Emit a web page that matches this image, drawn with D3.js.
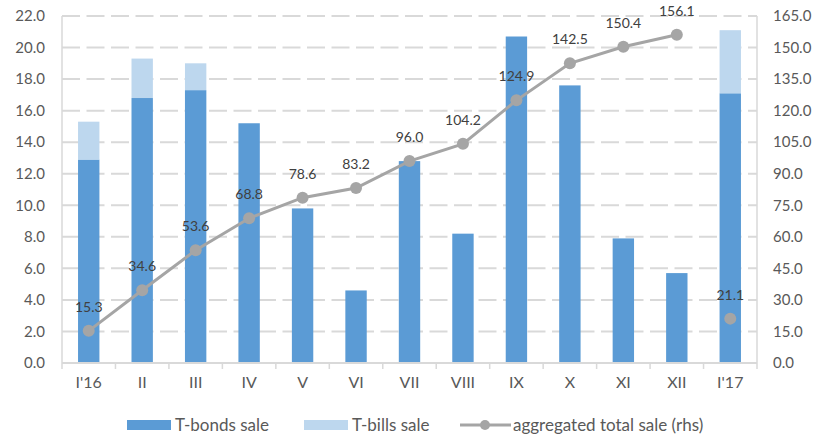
<!DOCTYPE html>
<html>
<head>
<meta charset="utf-8">
<script src="https://cdn.jsdelivr.net/npm/d3@7"></script>
<style>
  html, body { margin: 0; padding: 0; background: #fff; }
  svg { display: block; font-family: Lato, "Liberation Sans", sans-serif; }
</style>
</head>
<body>
<svg id="chart" width="826" height="436"></svg>
<script>
// Monthly sales of treasury securities
const months = ["I'16", "II", "III", "IV", "V", "VI", "VII", "VIII", "IX", "X", "XI", "XII", "I'17"];
const bondsSale = [12.9, 16.8, 17.3, 15.2, 9.8, 4.6, 12.8, 8.2, 20.7, 17.6, 7.9, 5.7, 17.1];
const billsSale = [2.4, 2.5, 1.7, 0, 0, 0, 0, 0, 0, 0, 0, 0, 4.0];
const aggregatedTotal = [15.3, 34.6, 53.6, 68.8, 78.6, 83.2, 96.0, 104.2, 124.9, 142.5, 150.4, 156.1, 21.1];
const leftTicks = [0, 2, 4, 6, 8, 10, 12, 14, 16, 18, 20, 22];
const rightTicks = [0, 15, 30, 45, 60, 75, 90, 105, 120, 135, 150, 165];
const seriesNames = ["T-bonds sale", "T-bills sale", "aggregated total sale (rhs)"];

const colors = { bonds: "#5b9bd5", bills: "#bdd7ee", line: "#a5a5a5", grid: "#d9d9d9", text: "#595959", label: "#404040" };

const svg = d3.select("#chart");
const m = { left: 62, right: 757, top: 16, bottom: 363 };

const x = d3.scaleBand().domain(months).range([m.left, m.right]).paddingInner(0.6).paddingOuter(0.3);
const xOuter = d3.scaleBand().domain(months).range([m.left, m.right]);
const yL = d3.scaleLinear().domain([0, 22]).range([m.bottom, m.top]);
const yR = d3.scaleLinear().domain([0, 165]).range([m.bottom, m.top]);

// dashed gridlines
svg.append("g")
  .selectAll("line")
  .data(leftTicks.filter(d => d > 0))
  .join("line")
  .attr("x1", m.left).attr("x2", m.right)
  .attr("y1", d => yL(d)).attr("y2", d => yL(d))
  .attr("stroke", colors.grid).attr("stroke-width", 2)
  .attr("stroke-dasharray", "18,6.5");

// vertical axis lines
[m.left, m.right].forEach(px => {
  svg.append("line")
    .attr("x1", px).attr("x2", px).attr("y1", m.top).attr("y2", m.bottom)
    .attr("stroke", colors.grid).attr("stroke-width", 1.5);
});

// left axis
const leftAxis = svg.append("g")
  .attr("transform", `translate(${m.left},0)`)
  .call(d3.axisLeft(yL).tickValues(leftTicks).tickFormat(d3.format(".1f")).tickSize(0).tickPadding(17));
leftAxis.select(".domain").remove();
leftAxis.selectAll("text").attr("fill", colors.text).style("font-size", "15px").style("font-family", "Lato, sans-serif");

// right axis
const rightAxis = svg.append("g")
  .attr("transform", `translate(${m.right},0)`)
  .call(d3.axisRight(yR).tickValues(rightTicks).tickFormat(d3.format(".1f")).tickSize(0).tickPadding(16));
rightAxis.select(".domain").remove();
rightAxis.selectAll("text").attr("fill", colors.text).style("font-size", "15px").style("font-family", "Lato, sans-serif");

// stacked bars
const stackData = months.map((mo, i) => ({ month: mo, bonds: bondsSale[i], bills: billsSale[i] }));
const stacked = d3.stack().keys(["bonds", "bills"])(stackData);
const fill = { bonds: colors.bonds, bills: colors.bills };
svg.append("g")
  .selectAll("g")
  .data(stacked)
  .join("g")
  .attr("fill", s => fill[s.key])
  .selectAll("rect")
  .data(s => s.filter(d => d[1] - d[0] > 0))
  .join("rect")
  .attr("x", d => x(d.data.month))
  .attr("width", x.bandwidth())
  .attr("y", d => yL(d[1]))
  .attr("height", d => yL(d[0]) - yL(d[1]));

// bottom axis
const bottomAxis = svg.append("g")
  .attr("transform", `translate(0,${m.bottom})`)
  .call(d3.axisBottom(x).tickSize(0).tickPadding(14));
bottomAxis.select(".domain").attr("stroke", colors.grid).attr("stroke-width", 2)
  .attr("d", `M${m.left},0H${m.right}`);
bottomAxis.selectAll("text").attr("fill", colors.text).style("font-size", "16px").style("font-family", "Lato, sans-serif");
// tick marks at category boundaries
const boundaries = months.map(mo => xOuter(mo)).concat([m.right]);
svg.append("g").selectAll("line").data(boundaries).join("line")
  .attr("x1", d => d).attr("x2", d => d)
  .attr("y1", m.bottom).attr("y2", m.bottom + 6)
  .attr("stroke", colors.grid).attr("stroke-width", 1.5);

// cumulative line (Jan'16 to Dec'16) plus separate Jan'17 point
const cx = mo => x(mo) + x.bandwidth() / 2;
const points = months.map((mo, i) => ({ month: mo, v: aggregatedTotal[i], i }));
const linePts = points.slice(0, 12);
svg.append("path")
  .datum(linePts)
  .attr("fill", "none")
  .attr("stroke", colors.line)
  .attr("stroke-width", 3)
  .attr("d", d3.line().x(d => cx(d.month)).y(d => yR(d.v)));

svg.append("g").selectAll("circle").data(points).join("circle")
  .attr("cx", d => cx(d.month)).attr("cy", d => yR(d.v)).attr("r", 6)
  .attr("fill", colors.line);

svg.append("g").selectAll("text").data(points).join("text")
  .attr("x", d => cx(d.month)).attr("y", d => yR(d.v) - 19)
  .attr("text-anchor", "middle")
  .attr("fill", colors.label)
  .style("font-size", "14px")
  .text(d => d3.format(".1f")(d.v));

// legend
const legend = svg.append("g").style("font-size", "17px");
const legY = 425;
legend.append("rect").attr("x", 127).attr("y", legY - 5).attr("width", 44).attr("height", 10).attr("fill", colors.bonds);
legend.append("text").attr("x", 175).attr("y", legY).attr("dy", "0.35em").attr("fill", colors.text).text(seriesNames[0]);
legend.append("rect").attr("x", 304).attr("y", legY - 5).attr("width", 44).attr("height", 10).attr("fill", colors.bills);
legend.append("text").attr("x", 352).attr("y", legY).attr("dy", "0.35em").attr("fill", colors.text).text(seriesNames[1]);
legend.append("line").attr("x1", 460).attr("x2", 511).attr("y1", legY).attr("y2", legY).attr("stroke", colors.line).attr("stroke-width", 3);
legend.append("circle").attr("cx", 485).attr("cy", legY).attr("r", 5).attr("fill", colors.line);
legend.append("text").attr("x", 513).attr("y", legY).attr("dy", "0.35em").attr("fill", colors.text).text(seriesNames[2]);
</script>
</body>
</html>
